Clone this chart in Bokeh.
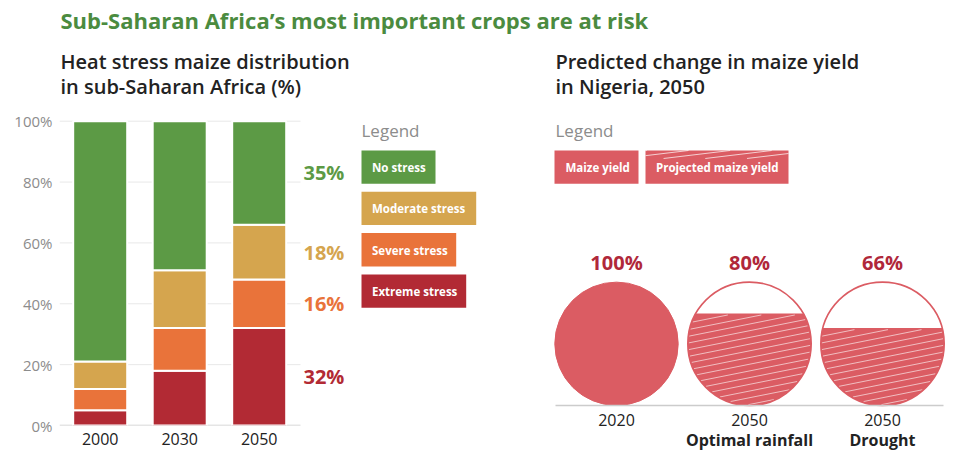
import numpy as np
from bokeh.plotting import figure
from bokeh.layouts import column, row
from bokeh.models import Range1d, FixedTicker, ColumnDataSource, LinearAxis
from bokeh.core.properties import value
from bokeh.embed import file_html
from bokeh.resources import INLINE

# ---------------- data ----------------
title = "Sub-Saharan Africa\u2019s most important crops are at risk"
left_sub = ["Heat stress maize distribution", "in sub-Saharan Africa (%)"]
right_sub = ["Predicted change in maize yield", "in Nigeria, 2050"]

years = ["2000", "2030", "2050"]
extreme = [5, 18, 32]
severe = [7, 14, 16]
moderate = [9, 19, 18]
no_stress = [79, 49, 34]
labels_2050 = ["32%", "16%", "18%", "35%"]          # bottom -> top
y_ticks = [0, 20, 40, 60, 80, 100]
y_tick_labels = ["0%", "20%", "40%", "60%", "80%", "100%"]
legend_items = ["No stress", "Moderate stress", "Severe stress", "Extreme stress"]

yield_years = ["2020", "2050", "2050"]
yield_scen = ["", "Optimal rainfall", "Drought"]
yield_pct = [100, 80, 66]
yield_kind = ["actual", "projected", "projected"]
yield_legend = ["Maize yield", "Projected maize yield"]

# ---------------- style ----------------
FONT = "Open Sans"
SEMI = "Open Sans SemiBold, Open Sans"
GREEN, GOLD, ORANGE, RED = "#5c9a45", "#d5a54e", "#e9733a", "#b22a34"
TITLE_GREEN = "#4b8b3f"
CIRCLE = "#db5c63"
PCT_RED = "#b0283a"
DARK = "#222222"
GREY_TXT = "#8c8c8c"

W, H_TITLE, H_MAIN = 952, 48, 411
LW = 528
RW = W - LW
TOP_REF = H_TITLE          # page y where the main row starts
FRAME_BOTTOM_REF = 425     # shared bottom of both plot frames
BOTTOM_BORDER = TOP_REF + H_MAIN - FRAME_BOTTOM_REF


def bare(p):
    p.grid.visible = False
    p.outline_line_color = None
    p.background_fill_color = "white"
    p.border_fill_color = "white"


def quiet_axis(ax, size, color, style="normal", standoff=0):
    ax.axis_line_color = None
    ax.major_tick_line_color = None
    ax.minor_tick_line_color = None
    ax.major_tick_out = 0
    ax.major_tick_in = 0
    ax.minor_tick_out = 0
    ax.minor_tick_in = 0
    ax.major_label_text_font = FONT
    ax.major_label_text_font_size = size
    ax.major_label_text_color = color
    ax.major_label_text_font_style = style
    ax.major_label_standoff = standoff


# ---------------- title ----------------
tf = figure(width=W, height=H_TITLE, x_range=Range1d(0, W), y_range=Range1d(0, H_TITLE),
            output_backend="svg", toolbar_location=None, min_border=0,
            x_axis_location=None, y_axis_location=None)
bare(tf)
tf.text(x=[60], y=[H_TITLE - 19.5], text=[title], text_font=value(FONT), text_font_size="22px",
        text_font_style="bold", text_color=TITLE_GREEN, text_baseline="middle")

# ---------------- left chart ----------------
Y0_REF, PPU_Y = 425.0, 3.043
BAR_C0, BAR_STEP = 99.7, 79.5


def ly(r):
    return (Y0_REF - r) / PPU_Y


def lx(r):
    return (r - BAR_C0) / BAR_STEP


left = figure(width=LW, height=H_MAIN, x_range=Range1d(lx(59), lx(LW)),
              y_range=Range1d(ly(FRAME_BOTTOM_REF), ly(TOP_REF)),
              output_backend="svg", toolbar_location=None,
              min_border_left=59, min_border_right=0, min_border_top=0, min_border_bottom=BOTTOM_BORDER)
bare(left)

left.yaxis.ticker = FixedTicker(ticks=y_ticks)
left.yaxis.major_label_overrides = {t: l for t, l in zip(y_ticks, y_tick_labels)}
quiet_axis(left.yaxis[0], "15px", GREY_TXT, standoff=7)

xs = list(range(len(years)))
left.xaxis.ticker = FixedTicker(ticks=xs)
left.xaxis.major_label_overrides = {i: y for i, y in zip(xs, years)}
quiet_axis(left.xaxis[0], "16px", DARK, standoff=7)

# gridlines
left.segment(x0=lx(59), x1=lx(300), y0=y_ticks[1:], y1=y_ticks[1:], line_color="#e8e8e8", line_width=1)
left.segment(x0=[lx(59)], x1=[lx(300)], y0=[0], y1=[0], line_color="#cccccc", line_width=1.5)

src = ColumnDataSource(dict(x=xs, extreme=extreme, severe=severe, moderate=moderate, no_stress=no_stress))
left.vbar_stack(["extreme", "severe", "moderate", "no_stress"], x="x", width=54 / BAR_STEP,
                fill_color=[RED, ORANGE, GOLD, GREEN], line_color="white", line_width=2, source=src)

# side labels for last bar
last = np.array([extreme[-1], severe[-1], moderate[-1], no_stress[-1]], dtype=float)
mids = np.cumsum(last) - last / 2
left.text(x=[lx(303)] * 4, y=list(mids), text=labels_2050,
          text_color=[RED, ORANGE, GOLD, GREEN], text_font=value(FONT), text_font_size="20px",
          text_font_style="bold", text_baseline="middle", text_align="left")

# subtitle
left.text(x=[lx(60)] * 2, y=[ly(61.3), ly(86.3)], text=left_sub, text_font=value(SEMI),
          text_font_size="20px", text_color=DARK, text_baseline="middle")

# legend
left.text(x=[lx(361)], y=[ly(130)], text=["Legend"], text_font=value(FONT), text_font_size="17px",
          text_color=GREY_TXT, text_baseline="middle")
box_w = [74, 114.7, 94.7, 104.7]
box_cols = [GREEN, GOLD, ORANGE, RED]
tops = [150 + i * 41.3 for i in range(4)]
left.quad(left=[lx(361)] * 4, right=[lx(361 + w) for w in box_w],
          top=[ly(t) for t in tops], bottom=[ly(t + 33.3) for t in tops],
          fill_color=box_cols, line_color=None)
left.text(x=[lx(371.5)] * 4, y=[ly(t + 16.9) for t in tops], text=legend_items, text_color="white",
          text_font=value(FONT), text_font_size="11.5px", text_font_style="bold", text_baseline="middle")

# ---------------- right chart ----------------
def rx(r):
    return r - LW


def ry(r):
    return 405.0 - r


right = figure(width=RW, height=H_MAIN, x_range=Range1d(0, RW),
               y_range=Range1d(ry(FRAME_BOTTOM_REF), ry(TOP_REF)),
               output_backend="svg", toolbar_location=None,
               min_border_left=0, min_border_right=0, min_border_top=0, min_border_bottom=BOTTOM_BORDER,
               x_axis_location=None, y_axis_location=None)
bare(right)

right.text(x=[rx(555)] * 2, y=[ry(61.3), ry(86.3)], text=right_sub, text_font=value(SEMI),
           text_font_size="20px", text_color=DARK, text_baseline="middle")
right.text(x=[rx(555)], y=[ry(130)], text=["Legend"], text_font=value(FONT), text_font_size="17px",
           text_color=GREY_TXT, text_baseline="middle")


def hatch_lines(inside, x0, x1, y0, y1, slope=0.2, spacing=6.3):
    """Segments of white hatch lines clipped to a convex region."""
    xx = np.linspace(x0, x1, 800)
    segs_x, segs_y = [], []
    span = (x1 - x0) * abs(slope)
    k = y0 - span
    while k <= y1 + span:
        yy = k + slope * (xx - x0)
        m = inside(xx, yy)
        if m.any():
            idx = np.where(m)[0]
            segs_x.append([xx[idx[0]], xx[idx[-1]]])
            segs_y.append([yy[idx[0]], yy[idx[-1]]])
        k += spacing
    return segs_x, segs_y


# legend boxes
lb = [(554, 638, 565), (645, 788, 655.5)]
right.quad(left=[rx(a) for a, b, c in lb], right=[rx(b) for a, b, c in lb],
           top=[ry(150)] * 2, bottom=[ry(183.3)] * 2, fill_color=CIRCLE, line_color=None)
bx0, bx1, by0, by1 = rx(645), rx(788), ry(158), ry(150)
sx, sy = hatch_lines(lambda x, y: (x >= bx0) & (x <= bx1) & (y >= by0) & (y <= by1),
                     bx0, bx1, by0 - 40, by1, slope=0.12, spacing=5)
right.multi_line(xs=sx, ys=sy, line_color="white", line_width=1, line_alpha=0.7)
right.text(x=[rx(c) for a, b, c in lb], y=[ry(166.8)] * 2, text=yield_legend, text_color="white",
           text_font=value(FONT), text_font_size="11.5px", text_font_style="bold", text_baseline="middle")

# circles
R = 61.7
C0, CSTEP = 88, 133
cxs = [C0 + i * CSTEP for i in range(len(yield_pct))]


def seg_fraction(h, r):
    d = r - h
    a = r * r * np.arccos(np.clip(d / r, -1, 1)) - d * np.sqrt(max(2 * r * h - h * h, 0))
    return a / (np.pi * r * r)


for cx, pct, kind in zip(cxs, yield_pct, yield_kind):
    cy = R
    if kind == "actual":
        right.circle(x=[cx], y=[cy], radius=R, fill_color=CIRCLE, line_color=CIRCLE, line_width=1)
        continue
    lo, hi = 0.0, 2 * R
    for _ in range(60):
        mid = (lo + hi) / 2
        if seg_fraction(mid, R) < pct / 100:
            lo = mid
        else:
            hi = mid
    h = (lo + hi) / 2
    level = cy - R + h
    a = np.arcsin((h - R) / R)
    th = np.linspace(np.pi - a, 2 * np.pi + a, 200)
    right.patch(x=cx + R * np.cos(th), y=cy + R * np.sin(th), fill_color=CIRCLE, line_color=None)
    sx, sy = hatch_lines(lambda x, y, cx=cx, cy=cy, level=level:
                         ((x - cx) ** 2 + (y - cy) ** 2 <= (R - 0.8) ** 2) & (y <= level - 1.5),
                         cx - R, cx + R, cy - R, level, slope=0.2, spacing=6.7)
    right.multi_line(xs=sx, ys=sy, line_color="white", line_width=1, line_alpha=0.6)
    right.circle(x=[cx], y=[cy], radius=R, fill_color=None, line_color=CIRCLE, line_width=1.6)

right.segment(x0=[rx(555)], x1=[rx(943)], y0=[0], y1=[0], line_color="#cccccc", line_width=1.5)
right.text(x=cxs, y=[ry(262)] * 3, text=[f"{v}%" for v in yield_pct], text_color=PCT_RED,
           text_font=value(FONT), text_font_size="20px", text_font_style="bold",
           text_align="center", text_baseline="middle")

# category axes under the circles
ax_year = LinearAxis(ticker=FixedTicker(ticks=cxs),
                     major_label_overrides={c: t for c, t in zip(cxs, yield_years)})
quiet_axis(ax_year, "16px", DARK, standoff=-12)
ax_scen = LinearAxis(ticker=FixedTicker(ticks=cxs),
                     major_label_overrides={c: t for c, t in zip(cxs, yield_scen)})
quiet_axis(ax_scen, "16px", DARK, style="bold", standoff=0)
right.add_layout(ax_year, "below")
right.add_layout(ax_scen, "below")

layout = column(tf, row(left, right))
open("out.html", "w").write(file_html(layout, INLINE))
